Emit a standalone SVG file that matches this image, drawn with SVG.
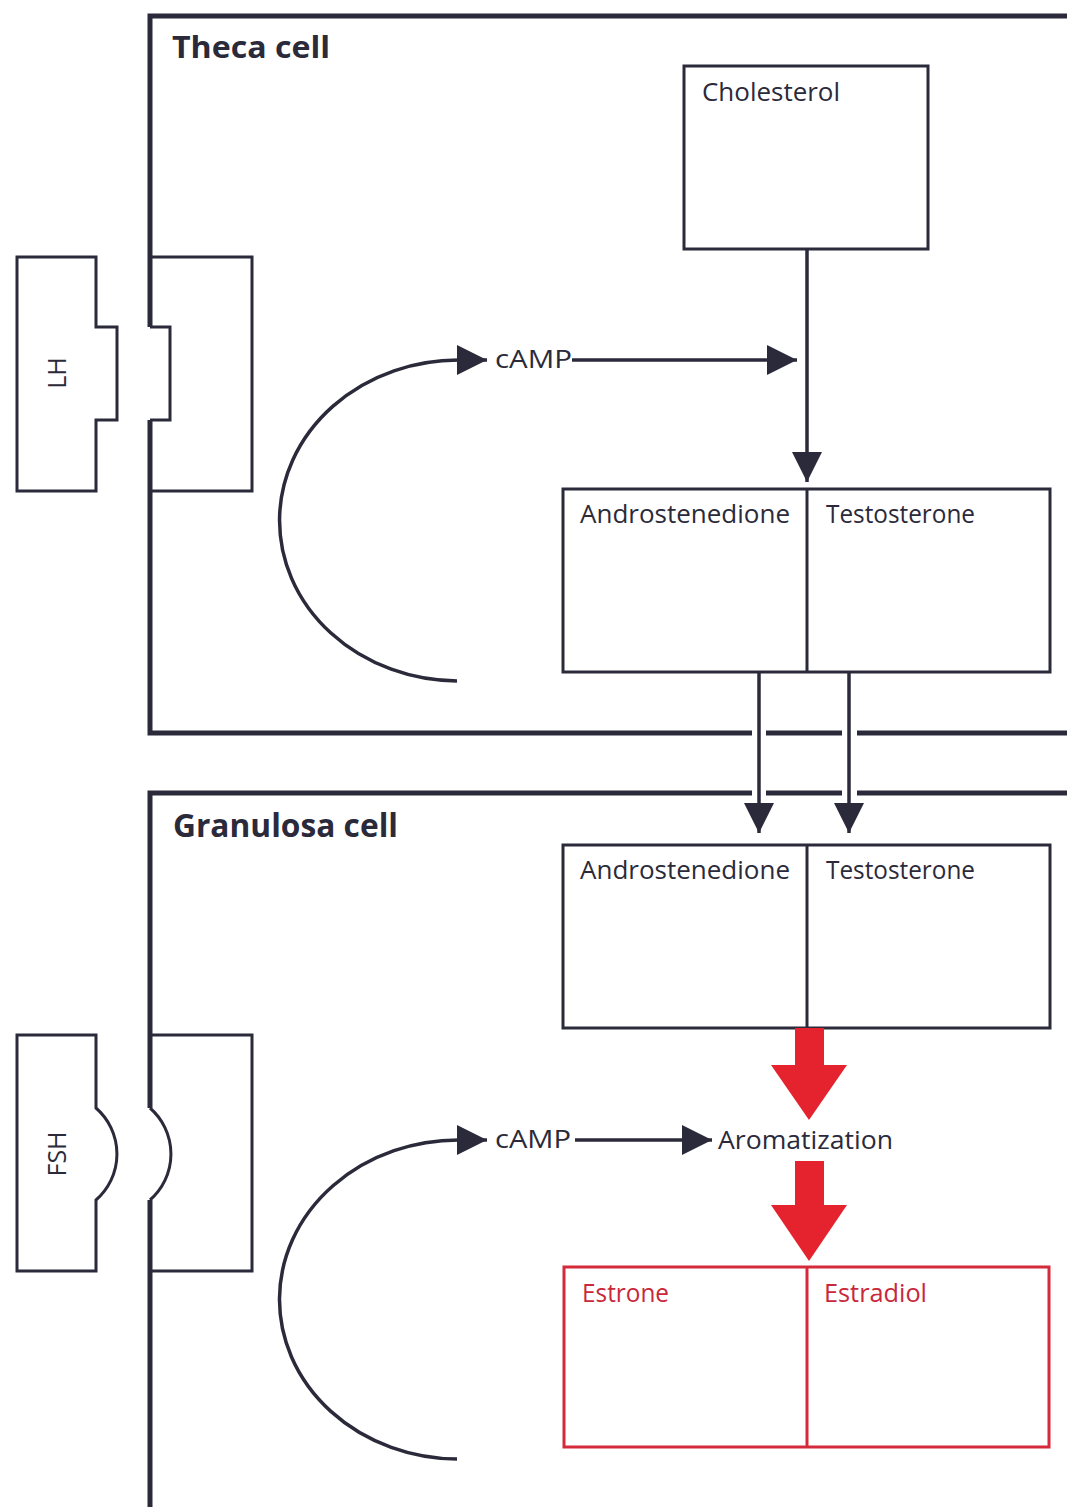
<svg xmlns="http://www.w3.org/2000/svg" width="1067" height="1507" viewBox="0 0 1067 1507">
<style>
.mem{fill:none;stroke:#2b2a3a;stroke-width:5;stroke-linejoin:miter}
.thin{fill:none;stroke:#2b2a3a;stroke-width:3}
.box{fill:none;stroke:#2b2a3a;stroke-width:3}
.rbox{fill:none;stroke:#d42a3a;stroke-width:3}
.t{font-family:"Open Sans","Liberation Sans",sans-serif;font-size:25px;fill:#2b2a3a}
.rt{font-family:"Open Sans","Liberation Sans",sans-serif;font-size:25px;fill:#c8283a}
.title{font-family:"Open Sans","Liberation Sans",sans-serif;font-size:31px;font-weight:bold;fill:#2b2a3a}
.con{fill:none;stroke:#2b2a3a;stroke-width:3.5}
.red{fill:#e5232e}
</style>
<defs>
<marker id="ah" markerUnits="userSpaceOnUse" markerWidth="30" markerHeight="30" refX="30" refY="15" orient="auto" viewBox="0 0 30 30">
<path d="M0,0 L30,15 L0,30 Z" fill="#2b2a3a"/>
</marker>
</defs>
<rect width="1067" height="1507" fill="#ffffff"/>

<g id="theca-cell">
<path class="mem" d="M150,327 L150,16 L1067,16 M150,420 L150,733 L752,733 M766,733 L842,733 M857,733 L1067,733"/>
<polyline class="thin" points="150,327 170,327 170,420 150,420"/>
<text class="title" x="172" y="58" textLength="158" lengthAdjust="spacingAndGlyphs">Theca cell</text>
</g>

<g id="lh-receptor">
<path class="box" d="M150,257 L252,257 L252,491 L150,491"/>
</g>

<g id="lh">
<path class="box" d="M96,327 L117,327 L117,420 L96,420 L96,491 L17,491 L17,257 L96,257 Z"/>
<text class="t" transform="translate(66,373) rotate(-90)" text-anchor="middle">LH</text>
</g>

<g id="cholesterol">
<rect class="box" x="684" y="66" width="244" height="183"/>
<text class="t" x="702" y="101" textLength="138" lengthAdjust="spacingAndGlyphs">Cholesterol</text>
</g>

<g id="theca-androgens">
<rect class="box" x="563" y="489" width="487" height="183"/>
<line class="box" x1="807" y1="489" x2="807" y2="672"/>
<text class="t" x="580" y="523" textLength="210" lengthAdjust="spacingAndGlyphs">Androstenedione</text>
<text class="t" x="826" y="523" textLength="149" lengthAdjust="spacingAndGlyphs">Testosterone</text>
</g>

<g id="camp-theca">
<text class="t" x="495" y="368" textLength="77" lengthAdjust="spacingAndGlyphs">cAMP</text>
</g>

<g id="granulosa-cell">
<path class="mem" d="M150,1510 L150,1200 M150,1108 L150,793 L752,793 M766,793 L842,793 M857,793 L1067,793"/>
<path class="thin" d="M150,1108 A61,61 0 0 1 150,1200"/>
<text class="title" x="173" y="837" style="font-size:32px" textLength="225" lengthAdjust="spacingAndGlyphs">Granulosa cell</text>
</g>

<g id="fsh-receptor">
<path class="box" d="M150,1035 L252,1035 L252,1271 L150,1271"/>
</g>

<g id="fsh">
<path class="box" d="M96,1035 L96,1108 A61,61 0 0 1 96,1200 L96,1271 L17,1271 L17,1035 Z"/>
<text class="t" transform="translate(66,1154) rotate(-90)" text-anchor="middle">FSH</text>
</g>

<g id="granulosa-androgens">
<rect class="box" x="563" y="845" width="487" height="183"/>
<line class="box" x1="807" y1="845" x2="807" y2="1028"/>
<text class="t" x="580" y="879" textLength="210" lengthAdjust="spacingAndGlyphs">Androstenedione</text>
<text class="t" x="826" y="879" textLength="149" lengthAdjust="spacingAndGlyphs">Testosterone</text>
</g>

<g id="camp-granulosa">
<text class="t" x="495" y="1148" textLength="76" lengthAdjust="spacingAndGlyphs">cAMP</text>
</g>

<g id="aromatization">
<text class="t" x="718" y="1149" textLength="175" lengthAdjust="spacingAndGlyphs">Aromatization</text>
</g>

<g id="estrogens">
<rect class="rbox" x="564" y="1267" width="485" height="180"/>
<line class="rbox" x1="807" y1="1267" x2="807" y2="1447"/>
<text class="rt" x="582" y="1302" textLength="87" lengthAdjust="spacingAndGlyphs">Estrone</text>
<text class="rt" x="824" y="1302" textLength="103" lengthAdjust="spacingAndGlyphs">Estradiol</text>
</g>

<g id="connectors">
<line class="con" x1="807" y1="249" x2="807" y2="482" marker-end="url(#ah)"/>
<line class="con" x1="572" y1="360" x2="797" y2="360" marker-end="url(#ah)"/>
<path class="con" d="M457,681 A179,160.5 0 0 1 460,360 L487,360" marker-end="url(#ah)"/>
<line class="con" x1="759" y1="672" x2="759" y2="833" marker-end="url(#ah)"/>
<line class="con" x1="849" y1="672" x2="849" y2="833" marker-end="url(#ah)"/>
<line class="con" x1="575" y1="1140" x2="712" y2="1140" marker-end="url(#ah)"/>
<path class="con" d="M457,1459 A179,159.5 0 0 1 460,1140 L487,1140" marker-end="url(#ah)"/>
<polygon class="red" points="795,1028 824,1028 824,1065 847,1065 809,1120 771,1065 795,1065"/>
<polygon class="red" points="795,1161 824,1161 824,1205 847,1205 809,1261 771,1205 795,1205"/>
</g>
</svg>
